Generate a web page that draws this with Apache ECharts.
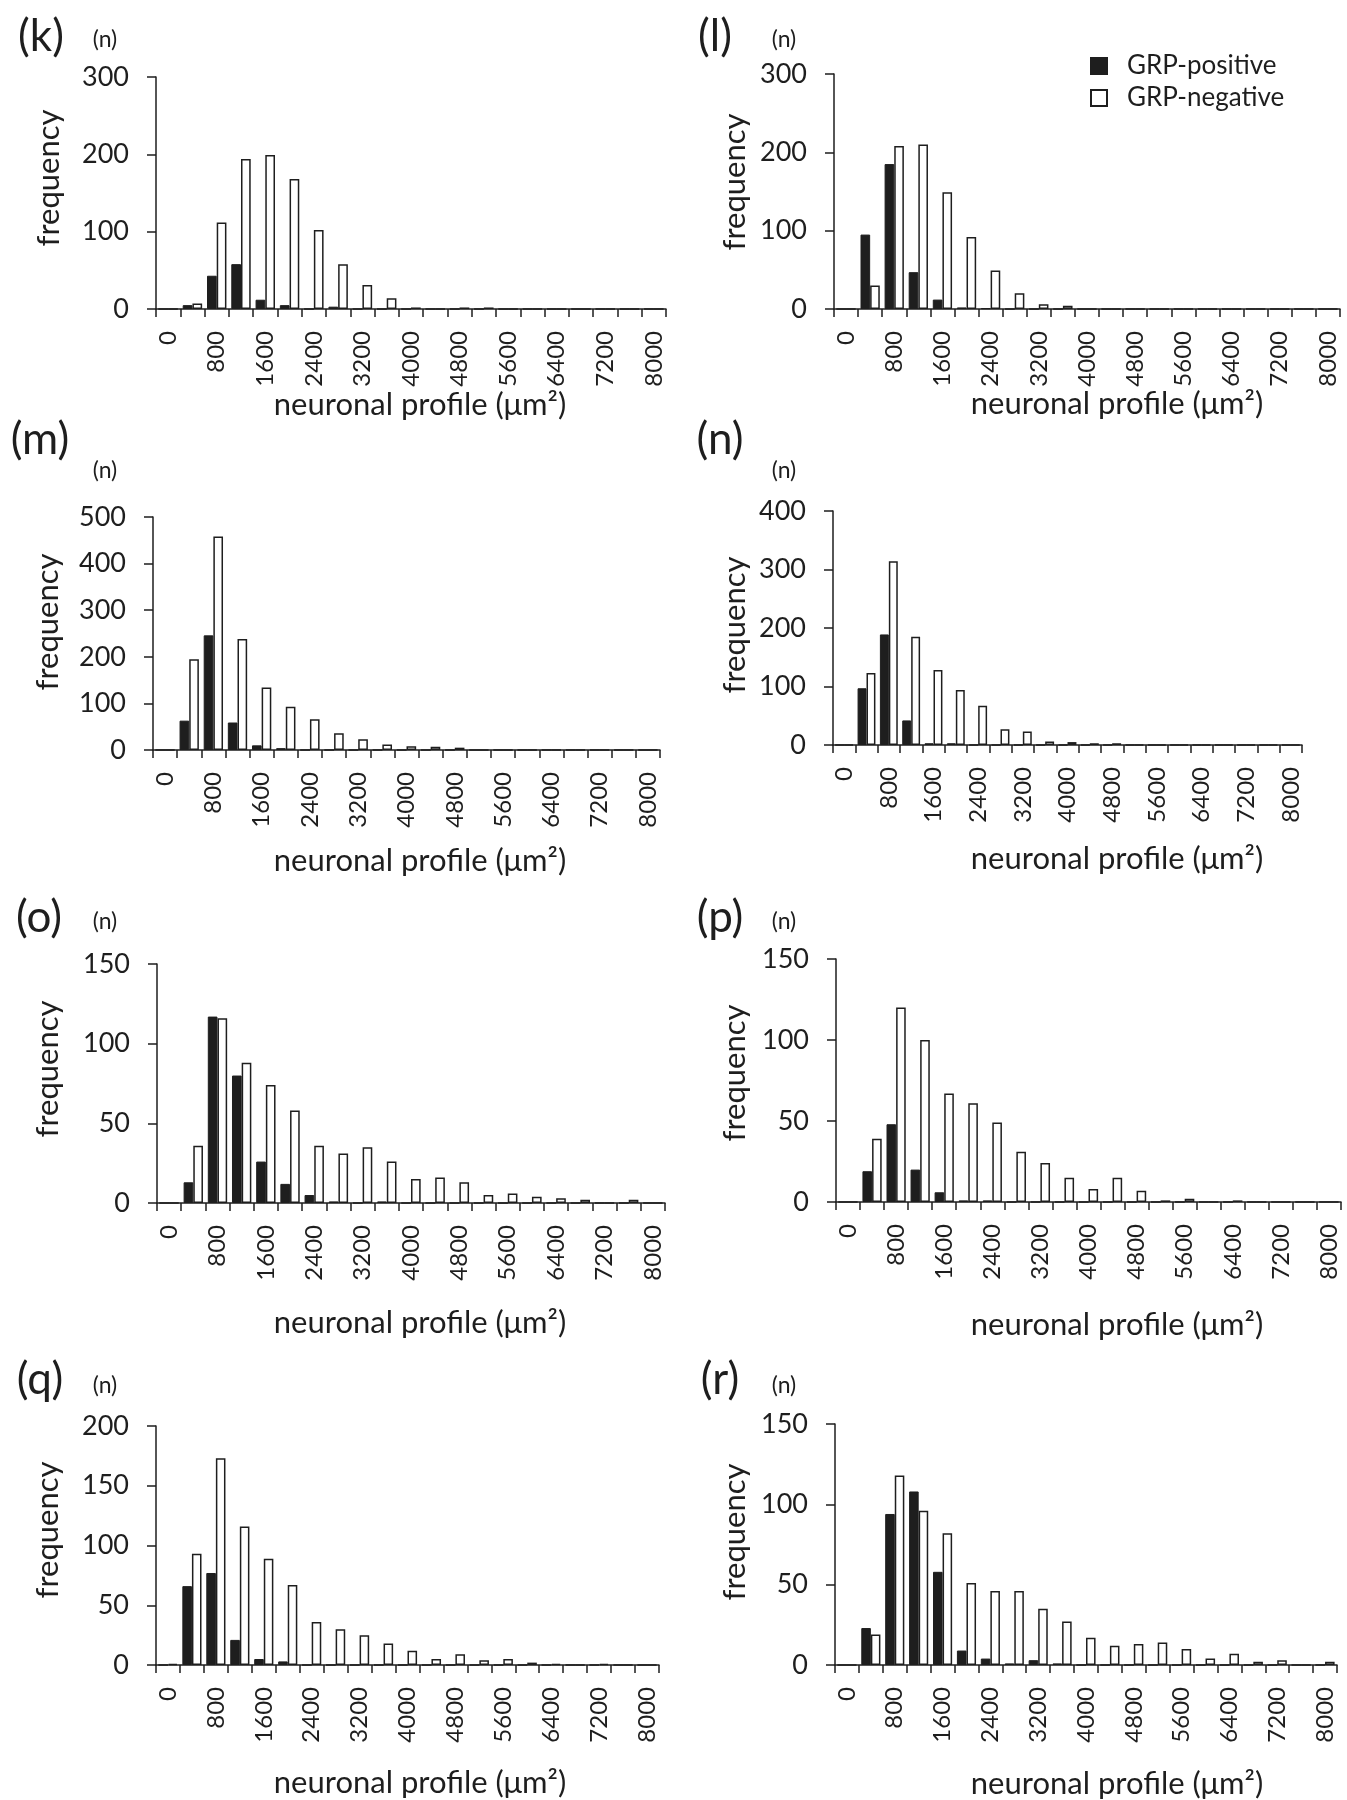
<!DOCTYPE html>
<html>
<head>
<meta charset="utf-8">
<script src="https://cdn.jsdelivr.net/npm/echarts@6/dist/echarts.min.js"></script>
<style>
html,body{margin:0;padding:0;background:#fff;}
#chart{width:1347px;height:1800px;}
</style>
</head>
<body>
<div id="chart"></div>
<script>
// ---- DATA ----
const categories = ['0','400','800','1200','1600','2000','2400','2800','3200','3600','4000',
  '4400','4800','5200','5600','6000','6400','6800','7200','7600','8000'];

const panelLabels = ['(k)','(l)','(m)','(n)','(o)','(p)','(q)','(r)'];
const seriesNames = ['GRP-positive','GRP-negative'];

const kPositive = [0,5,43,58,12,5,0,3,0,0,0,0,0,0,0,0,0,0,0,0,0];
const kNegative = [0,7,112,194,199,168,102,58,31,14,2,0,2,2,0,0,0,0,0,0,0];
const lPositive = [0,95,185,47,12,2,1,0,0,0,0,0,0,0,0,0,0,0,0,0,0];
const lNegative = [0,30,208,210,149,92,49,20,6,4,0,0,0,0,0,0,0,0,0,0,0];
const mPositive = [0,63,246,59,10,4,0,0,0,0,0,0,0,0,0,0,0,0,0,0,0];
const mNegative = [0,195,458,238,134,93,66,36,23,12,8,7,5,0,0,0,0,0,0,0,0];
const nPositive = [0,97,189,42,3,3,0,0,0,0,0,0,0,0,0,0,0,0,0,0,0];
const nNegative = [0,123,314,185,128,94,67,27,23,6,5,3,3,0,0,0,0,0,0,0,0];
const oPositive = [0,13,117,80,26,12,5,1,0,1,0,0,0,0,0,0,0,0,0,0,0];
const oNegative = [0,36,116,88,74,58,36,31,35,26,15,16,13,5,6,4,3,2,0,2,0];
const pPositive = [0,19,48,20,6,1,1,0,0,0,0,0,0,0,0,0,0,0,0,0,0];
const pNegative = [0,39,120,100,67,61,49,31,24,15,8,15,7,1,2,0,1,0,0,0,0];
const qPositive = [0,66,77,21,5,3,0,0,0,0,0,0,0,0,0,0,0,0,0,0,0];
const qNegative = [1,93,173,116,89,67,36,30,25,18,12,5,9,4,5,2,1,0,1,0,0];
const rPositive = [0,23,94,108,58,9,4,1,3,1,0,0,0,0,0,0,0,0,0,0,0];
const rNegative = [0,19,118,96,82,51,46,46,35,27,17,12,13,14,10,4,7,2,3,0,2];

const yMaxima   = [300,300,500,400,150,150,200,150];
const yIntervals = [100,100,100,100,50,50,50,50];

const positiveSets = [kPositive,lPositive,mPositive,nPositive,oPositive,pPositive,qPositive,rPositive];
const negativeSets = [kNegative,lNegative,mNegative,nNegative,oNegative,pNegative,qNegative,rNegative];

// ---- LAYOUT (pixels) ----
const grids = [
  {left:156, width:510, top:77,  height:232},
  {left:834, width:506, top:74,  height:235},
  {left:153, width:507, top:517, height:233},
  {left:833, width:469, top:511, height:234},
  {left:157, width:508, top:964, height:239},
  {left:836, width:505, top:959, height:243},
  {left:156, width:503, top:1426, height:239},
  {left:835, width:502, top:1424, height:241}
];
const titlePos = [[41,37,105,40],[715,37,784,40],[40,440,105,471],[720,440,784,471],
  [39,918,105,922],[720,918,784,922],[40,1380,105,1386],[720,1380,784,1386]];
const xNamePos = [[420,405],[1117,404],[420,861],[1117,859],[420,1323],[1117,1325],[420,1783],[1117,1784]];
const yNamePos = [[49,178],[735,182],[48,622],[735,625],[48,1069],[735,1073],[48,1530],[735,1532]];

const FONT = 'Lato, "Open Sans", sans-serif';
const INK = '#1e1e1e';

const option = {
  backgroundColor:'#fff',
  animation:false,
  textStyle:{fontFamily:FONT, color:INK},
  legend:{
    data:seriesNames, orient:'vertical', left:1085, top:48,
    itemWidth:16, itemHeight:16, itemGap:6, icon:'rect',
    textStyle:{fontSize:26, color:INK, fontFamily:FONT, padding:[0,0,0,15]}
  },
  grid:[], xAxis:[], yAxis:[], series:[], graphic:{elements:[]}
};

grids.forEach((g,i)=>{
  option.grid.push(Object.assign({containLabel:false}, g));
  option.xAxis.push({
    type:'category', gridIndex:i, data:categories, boundaryGap:true,
    axisLine:{show:true, onZero:false, lineStyle:{color:INK, width:1.5}},
    axisTick:{show:true, interval:0, alignWithLabel:false, length:8, lineStyle:{color:INK, width:1.5}},
    axisLabel:{interval:1, rotate:90, margin:22, fontSize:24, color:INK, fontFamily:FONT},
    splitLine:{show:false}
  });
  option.yAxis.push({
    type:'value', gridIndex:i, min:0, max:yMaxima[i], interval:yIntervals[i],
    axisLine:{show:true, lineStyle:{color:INK, width:1.5}},
    axisTick:{show:true, length:9, lineStyle:{color:INK, width:1.5}},
    axisLabel:{margin:27, fontSize:27, color:INK, fontFamily:FONT},
    splitLine:{show:false}
  });
  option.series.push({
    type:'bar', name:seriesNames[0], xAxisIndex:i, yAxisIndex:i, data:positiveSets[i],
    barGap:'0%', barCategoryGap:'20%',
    itemStyle:{color:INK, borderColor:INK, borderWidth:1}
  });
  option.series.push({
    type:'bar', name:seriesNames[1], xAxisIndex:i, yAxisIndex:i, data:negativeSets[i],
    barGap:'0%', barCategoryGap:'20%',
    itemStyle:{color:'#ffffff', borderColor:INK, borderWidth:1.5}
  });
  const t = titlePos[i];
  option.graphic.elements.push({
    type:'text', x:t[0], y:t[1],
    style:{text:panelLabels[i], font:'44px ' + FONT, fill:INK, align:'center', verticalAlign:'middle'}
  });
  option.graphic.elements.push({
    type:'text', x:t[2], y:t[3],
    style:{text:'(n)', font:'23px ' + FONT, fill:INK, align:'center', verticalAlign:'middle'}
  });
  option.graphic.elements.push({
    type:'text', x:xNamePos[i][0], y:xNamePos[i][1],
    style:{text:'neuronal profile (\u03bcm\u00b2)', font:'31px ' + FONT, fill:INK, align:'center', verticalAlign:'middle'}
  });
  option.graphic.elements.push({
    type:'text', x:yNamePos[i][0], y:yNamePos[i][1], rotation:Math.PI/2,
    style:{text:'frequency', font:'31px ' + FONT, fill:INK, align:'center', verticalAlign:'middle'}
  });
});

const chart = echarts.init(document.getElementById('chart'), null, {renderer:'canvas'});
chart.setOption(option);
</script>
</body>
</html>
